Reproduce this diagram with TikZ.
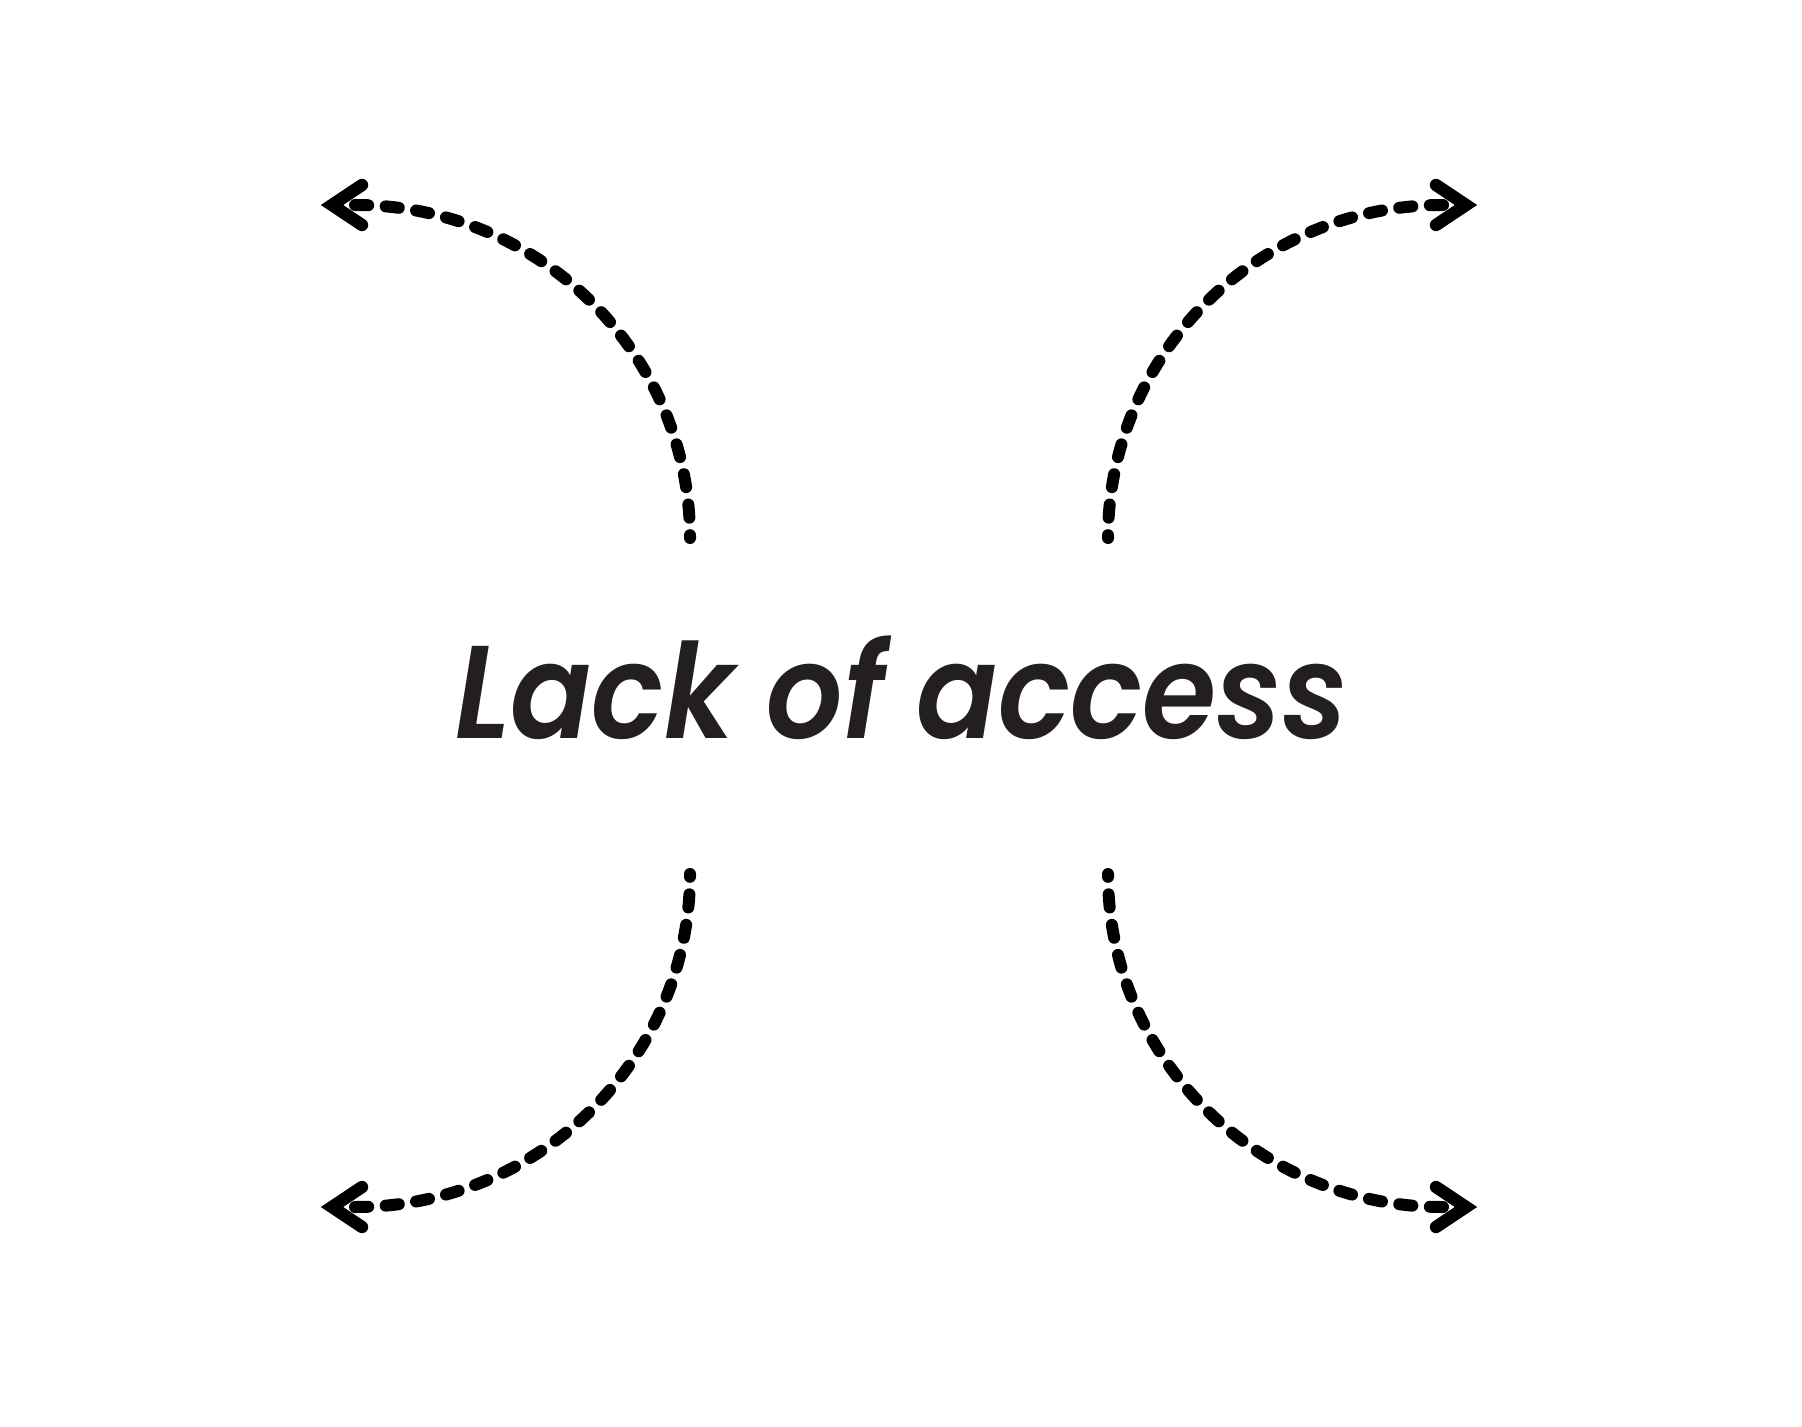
\documentclass[tikz,border=0pt]{standalone}
\usepackage{graphicx}
\usepackage{fontspec}
\setmainfont{Poppins}
\newfontfamily\titlefont{Poppins SemiBold Italic}
\definecolor{textgray}{HTML}{231F20}
\begin{document}
\begin{tikzpicture}[x=0.5pt,y=-0.5pt,
  dashline/.style={line width=6pt, line cap=round, dash pattern=on 6.6pt off 8.75pt, black},
  chevron/.style={line width=6.2pt, line cap=round, line join=miter, miter limit=10, black}]
\useasboundingbox[fill=white] (0,0) rectangle (1802,1427);

% text
\node[anchor=base west, inner sep=0pt, text=textgray] (title) at (455,738)
  {\resizebox{446pt}{51.5pt}{\fontsize{68}{80}\selectfont\titlefont Lack of access}};

% end points of the curves
\coordinate (tlA) at (355,205);
\coordinate (trA) at (1443,205);
\coordinate (blA) at (355,1207);
\coordinate (brA) at (1443,1207);

% dashed curves
\draw[dashline] (tlA) arc[start angle=-90, end angle=0, x radius=335, y radius=333];
\draw[dashline] (trA) arc[start angle=-90, end angle=-180, x radius=335, y radius=333];
\draw[dashline] (blA) arc[start angle=90, end angle=0, x radius=335, y radius=333];
\draw[dashline] (brA) arc[start angle=90, end angle=180, x radius=335, y radius=333];

% chevron heads
\coordinate (tlT) at (332,205);
\coordinate (trT) at (1466,205);
\coordinate (blT) at (332,1207);
\coordinate (brT) at (1466,1207);
\draw[chevron] ([shift={(30,-20)}]tlT) -- (tlT) -- ([shift={(30,20)}]tlT);
\draw[chevron] ([shift={(-30,-20)}]trT) -- (trT) -- ([shift={(-30,20)}]trT);
\draw[chevron] ([shift={(30,-20)}]blT) -- (blT) -- ([shift={(30,20)}]blT);
\draw[chevron] ([shift={(-30,-20)}]brT) -- (brT) -- ([shift={(-30,20)}]brT);
\end{tikzpicture}
\end{document}
